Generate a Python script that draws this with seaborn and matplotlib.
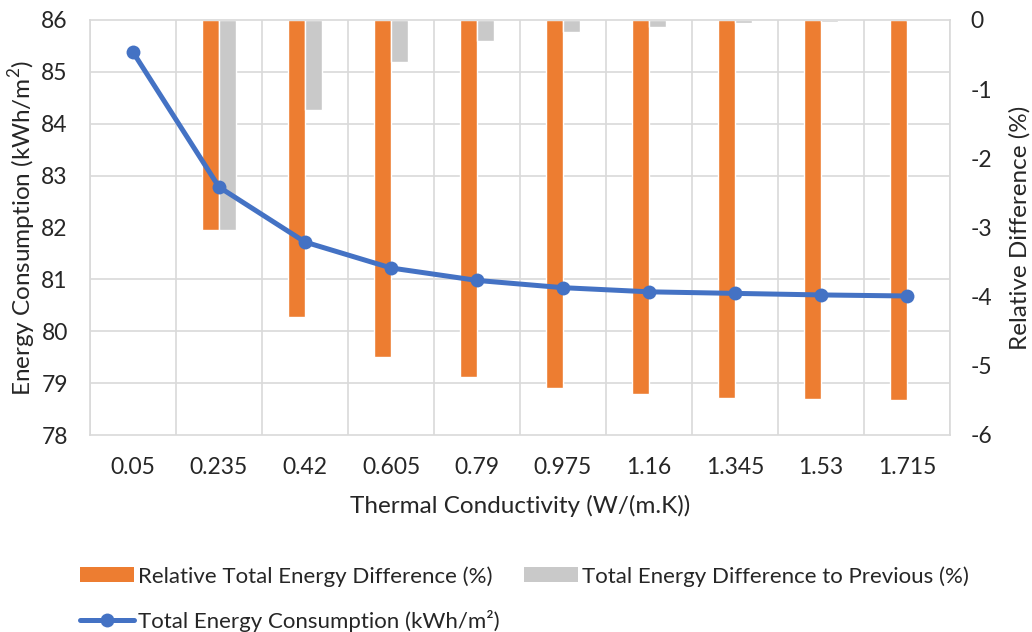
import numpy as np
import pandas as pd
import matplotlib
matplotlib.use("Agg")
import matplotlib.pyplot as plt
from matplotlib.patches import Patch
from matplotlib.lines import Line2D
import seaborn as sns

# Thermal conductivity cases (W/(m.K))
conductivity = ["0.05", "0.235", "0.42", "0.605", "0.79", "0.975", "1.16", "1.345", "1.53", "1.715"]
# Total energy consumption (kWh/m²)
energy = [85.38, 82.78, 81.72, 81.22, 80.98, 80.84, 80.76, 80.73, 80.70, 80.68]
# Relative difference to the first case (%)
rel_total = [0.0, -3.04, -4.29, -4.87, -5.16, -5.32, -5.41, -5.46, -5.48, -5.50]
# Difference to the previous case (%)
rel_prev = [0.0, -3.04, -1.30, -0.61, -0.30, -0.17, -0.10, -0.05, -0.03, -0.02]

name_total = "Relative Total Energy Difference (%)"
name_prev = "Total Energy Difference to Previous (%)"
name_energy = "Total Energy Consumption (kWh/m²)"

ORANGE = "#ED7D31"
GREY = "#C9C9C9"
BLUE = "#4472C4"
GRID = "#D9D9D9"
TEXT = "#262626"

sns.set_theme(style="white")
plt.rcParams["font.family"] = ["Lato", "DejaVu Sans"]
plt.rcParams["axes.unicode_minus"] = False
plt.rcParams["mathtext.fontset"] = "custom"
plt.rcParams["mathtext.rm"] = "Lato"
FS_TICK = 16.5
FS_TITLE = 17.5
FS_LEG = 16

bars = pd.DataFrame({
    "k": conductivity * 2,
    "series": [name_total] * len(conductivity) + [name_prev] * len(conductivity),
    "value": rel_total + rel_prev,
})

fig = plt.figure(figsize=(10.32, 6.32), dpi=100)
ax_bar = fig.add_axes([90 / 1032, 1 - 435 / 632, 860 / 1032, 415 / 632])

sns.barplot(data=bars, x="k", y="value", hue="series", order=conductivity,
            hue_order=[name_total, name_prev], palette=[ORANGE, GREY],
            width=0.4, gap=0, saturation=1, legend=False, ax=ax_bar, zorder=2)

ax_line = ax_bar.twinx()
sns.lineplot(x=np.arange(len(conductivity)), y=energy, color=BLUE, linewidth=3.6,
             marker="o", markersize=10, markeredgewidth=0, ax=ax_line, zorder=3)

# Bar axis: relative difference on the right, grid drawn behind bars
n = len(conductivity)
ax_bar.set_xlim(-0.5, n - 0.5)
ax_bar.set_ylim(-6, 0)
ax_bar.set_yticks(np.arange(-6, 1, 1))
ax_bar.yaxis.tick_right()
ax_bar.yaxis.set_label_position("right")
ax_bar.set_yticks(np.linspace(-6, 0, 9), minor=True)
ax_bar.set_xticks(np.arange(n))
ax_bar.set_xticklabels(conductivity)
ax_bar.set_xticks(np.arange(-0.5, n, 1.0), minor=True)
ax_bar.grid(which="minor", color=GRID, linewidth=1.2)
ax_bar.grid(which="major", visible=False)
ax_bar.set_axisbelow(True)
ax_bar.tick_params(which="both", length=0)
ax_bar.tick_params(axis="y", labelsize=FS_TICK, pad=15, colors=TEXT)
ax_bar.tick_params(axis="x", labelsize=FS_TICK, pad=16, colors=TEXT)
for s in ax_bar.spines.values():
    s.set_color(GRID)
    s.set_linewidth(1.2)
ax_bar.set_ylabel("Relative Difference (%)", fontsize=FS_TITLE, color=TEXT, labelpad=12)
ax_bar.set_xlabel("Thermal Conductivity (W/(m.K))", fontsize=FS_TITLE, color=TEXT, labelpad=12)

# Line axis: energy consumption on the left
ax_line.set_ylim(78, 86)
ax_line.set_yticks(np.arange(78, 87, 1))
ax_line.yaxis.tick_left()
ax_line.yaxis.set_label_position("left")
ax_line.tick_params(length=0, labelsize=FS_TICK, pad=16, colors=TEXT)
for s in ax_line.spines.values():
    s.set_visible(False)
ax_line.set_ylabel("Energy Consumption (kWh/m$^{2}$)", fontsize=FS_TITLE, color=TEXT, labelpad=2)
ax_line.set_xlim(-0.5, n - 0.5)

handles = [
    Patch(facecolor=ORANGE, edgecolor="none"),
    Line2D([0], [0], color=BLUE, linewidth=3.6, marker="o", markersize=10, markeredgewidth=0),
    Patch(facecolor=GREY, edgecolor="none"),
]
labels = [name_total, name_energy, name_prev]
fig.legend(handles, labels, ncol=2, loc="upper left", bbox_to_anchor=(80 / 1032, 1 - 566 / 632),
           frameon=False, fontsize=FS_LEG, handlelength=2.45, handleheight=0.65, handletextpad=0.15,
           columnspacing=1.1, labelspacing=1.05, borderaxespad=0, borderpad=0,
           labelcolor=TEXT)

fig.savefig("out.png", dpi=100)
